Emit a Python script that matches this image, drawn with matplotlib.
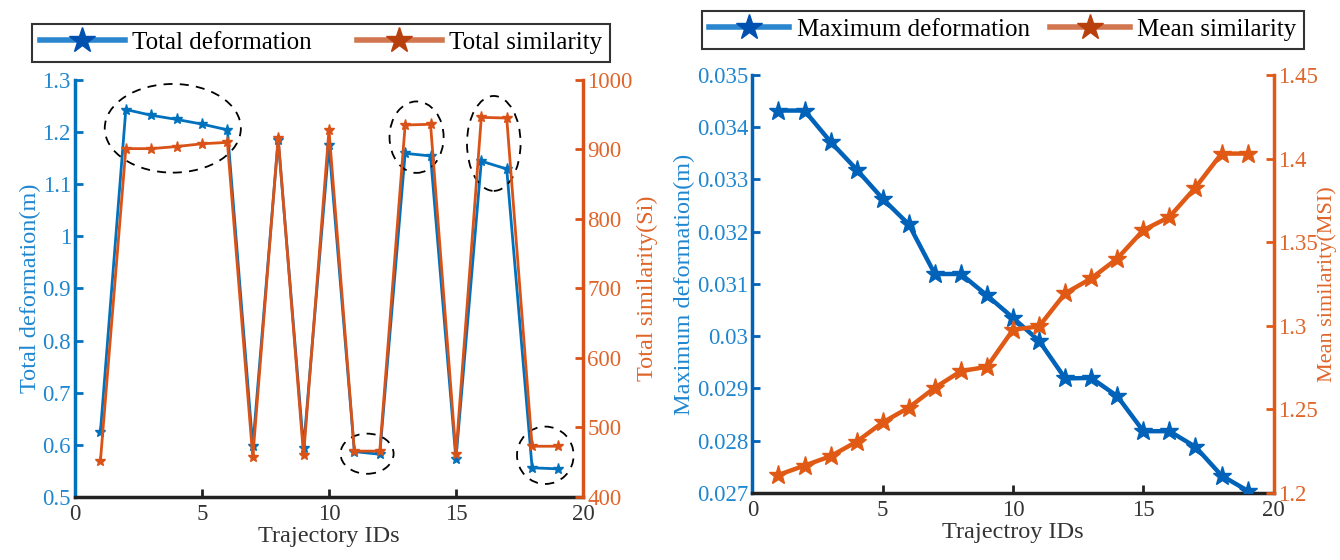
# Deformation vs. similarity per trajectory, two panels with twin y axes
import matplotlib.pyplot as plt
from matplotlib.patches import Ellipse
from matplotlib.ticker import FuncFormatter
import numpy as np

plt.rcParams['font.family'] = ['Liberation Serif', 'DejaVu Serif']

ids = np.arange(1, 20)

# left panel
total_deformation = [0.625, 1.243, 1.232, 1.224, 1.215, 1.204, 0.597, 1.185, 0.594, 1.175,
                     0.587, 0.582, 1.159, 1.154, 0.572, 1.144, 1.129, 0.556, 0.554]
total_similarity = [452, 901, 901, 904, 908, 910, 457, 917, 460, 928,
                    466, 466, 935, 936, 462, 946, 945, 473, 473]

# dashed highlight ellipses on the left panel: (x, y on deformation scale, width, height)
highlights = [(3.85, 1.207, 5.36, 0.17),
              (13.45, 1.19, 2.13, 0.137),
              (16.49, 1.178, 2.11, 0.182),
              (11.5, 0.583, 2.09, 0.077),
              (18.52, 0.58, 2.23, 0.11)]

# right panel
max_deformation = [0.03432, 0.03432, 0.03372, 0.03319, 0.03263, 0.03214, 0.03119, 0.03119,
                   0.03078, 0.03035, 0.02991, 0.02919, 0.02920, 0.02885, 0.02818, 0.02818,
                   0.02788, 0.02733, 0.02704]
mean_similarity = [1.2107, 1.2163, 1.2219, 1.2306, 1.2421, 1.2510, 1.2629, 1.2728,
                   1.2754, 1.2976, 1.2996, 1.3194, 1.3283, 1.3402, 1.3572, 1.3651,
                   1.3827, 1.4030, 1.4030]

blue = '#0072BD'
blue_txt = '#1F87D0'
orange = '#D95319'
orange_txt = '#E0652A'
fmt = FuncFormatter(lambda v, p: '%g' % round(v, 4))


def style_axes(ax, ax2, lc, rc):
    for a in (ax, ax2):
        a.spines['top'].set_visible(False)
    ax.spines['right'].set_visible(False)
    ax2.spines['left'].set_visible(False)
    ax2.spines['bottom'].set_visible(False)
    ax.spines['left'].set_color(lc)
    ax.spines['left'].set_linewidth(2.5)
    ax2.spines['right'].set_color(rc)
    ax2.spines['right'].set_linewidth(2.5)
    ax.spines['bottom'].set_color('#222222')
    ax.spines['bottom'].set_linewidth(2.5)
    ax.tick_params(axis='x', direction='in', length=6, width=2, colors='#222222',
                   labelsize=16.5, labelcolor='#333333', pad=5)
    ax.tick_params(axis='y', direction='in', length=6, width=2, colors=lc,
                   labelsize=16.5, labelcolor=blue_txt, pad=3)
    ax2.tick_params(axis='y', direction='in', length=6, width=2, colors=rc,
                    labelsize=16.5, labelcolor=orange_txt, pad=3)
    ax.set_xlim(0, 20)
    ax.set_xticks([0, 5, 10, 15, 20])
    ax.yaxis.set_major_formatter(fmt)
    ax2.yaxis.set_major_formatter(fmt)


fig = plt.figure(figsize=(13.4, 5.6), dpi=100)

# ---- left panel
ax = fig.add_axes([0.056, 0.1125, 0.379, 0.745])
ax2 = ax.twinx()
ax.plot(ids, total_deformation, color=blue, lw=2, marker='*', ms=8, zorder=3)
ax2.plot(ids, total_similarity, color=orange, lw=2, marker='*', ms=8)
ax.set_ylim(0.5, 1.3)
ax.set_yticks(np.arange(0.5, 1.31, 0.1))
ax2.set_ylim(400, 1000)
ax2.set_yticks(np.arange(400, 1001, 100))
style_axes(ax, ax2, blue, orange)
ax.set_xlabel('Trajectory IDs', fontsize=17.5, color='#333333', labelpad=1)
ax.set_ylabel('Total deformation(m)', fontsize=17.5, color=blue_txt, labelpad=1)
ax2.set_ylabel('Total similarity(Si)', fontsize=17.5, color=orange_txt, labelpad=3)
for (cx, cy, w, h) in highlights:
    ax.add_patch(Ellipse((cx, cy), w, h, fill=False, ls=(0, (5, 4)), lw=1.3,
                         color='black', zorder=5))

h1, = plt.plot([], [], color='#2A86CF', lw=4, marker='*', ms=19, mfc='#0050B0', mec='#0050B0')
h2, = plt.plot([], [], color='#D27650', lw=4, marker='*', ms=19, mfc='#B8400C', mec='#B8400C')
leg = fig.legend([h1, h2], ['Total deformation', 'Total similarity'], loc='center',
                 bbox_to_anchor=(0.2395, 0.9235), ncol=2, fontsize=18, frameon=True,
                 fancybox=False, edgecolor='black', handlelength=3.4, columnspacing=1.8,
                 borderpad=0.3, handletextpad=0.3, borderaxespad=0)
leg.get_frame().set_linewidth(1.5)

# ---- right panel
bx = fig.add_axes([0.5615, 0.12, 0.389, 0.746])
bx2 = bx.twinx()
bx.plot(ids, max_deformation, color='#0062B8', lw=3.2, marker='*', ms=14, zorder=3)
bx2.plot(ids, mean_similarity, color='#E05A16', lw=3.2, marker='*', ms=14)
bx.set_ylim(0.027, 0.035)
bx.set_yticks(np.arange(0.027, 0.03501, 0.001))
bx2.set_ylim(1.2, 1.45)
bx2.set_yticks(np.arange(1.2, 1.4501, 0.05))
style_axes(bx, bx2, '#0062B8', '#E05A16')
bx.set_xlabel('Trajectroy IDs', fontsize=17.5, color='#333333', labelpad=1)
bx.set_ylabel('Maximum deformation(m)', fontsize=17.5, color=blue_txt, labelpad=1)
bx2.set_ylabel('Mean similarity(MSI)', fontsize=16, color=orange_txt)
bx2.yaxis.set_label_coords(1.083, 0.5)

g1, = plt.plot([], [], color='#2A86CF', lw=4, marker='*', ms=19, mfc='#0050B0', mec='#0050B0')
g2, = plt.plot([], [], color='#D27650', lw=4, marker='*', ms=19, mfc='#B8400C', mec='#B8400C')
leg2 = fig.legend([g1, g2], ['Maximum deformation', 'Mean similarity'], loc='center',
                  bbox_to_anchor=(0.7485, 0.9465), ncol=2, fontsize=18, frameon=True,
                  fancybox=False, edgecolor='black', handlelength=3.2, columnspacing=0.8,
                  borderpad=0.3, handletextpad=0.3, borderaxespad=0)
leg2.get_frame().set_linewidth(1.5)

fig.savefig('out.png', dpi=100)
